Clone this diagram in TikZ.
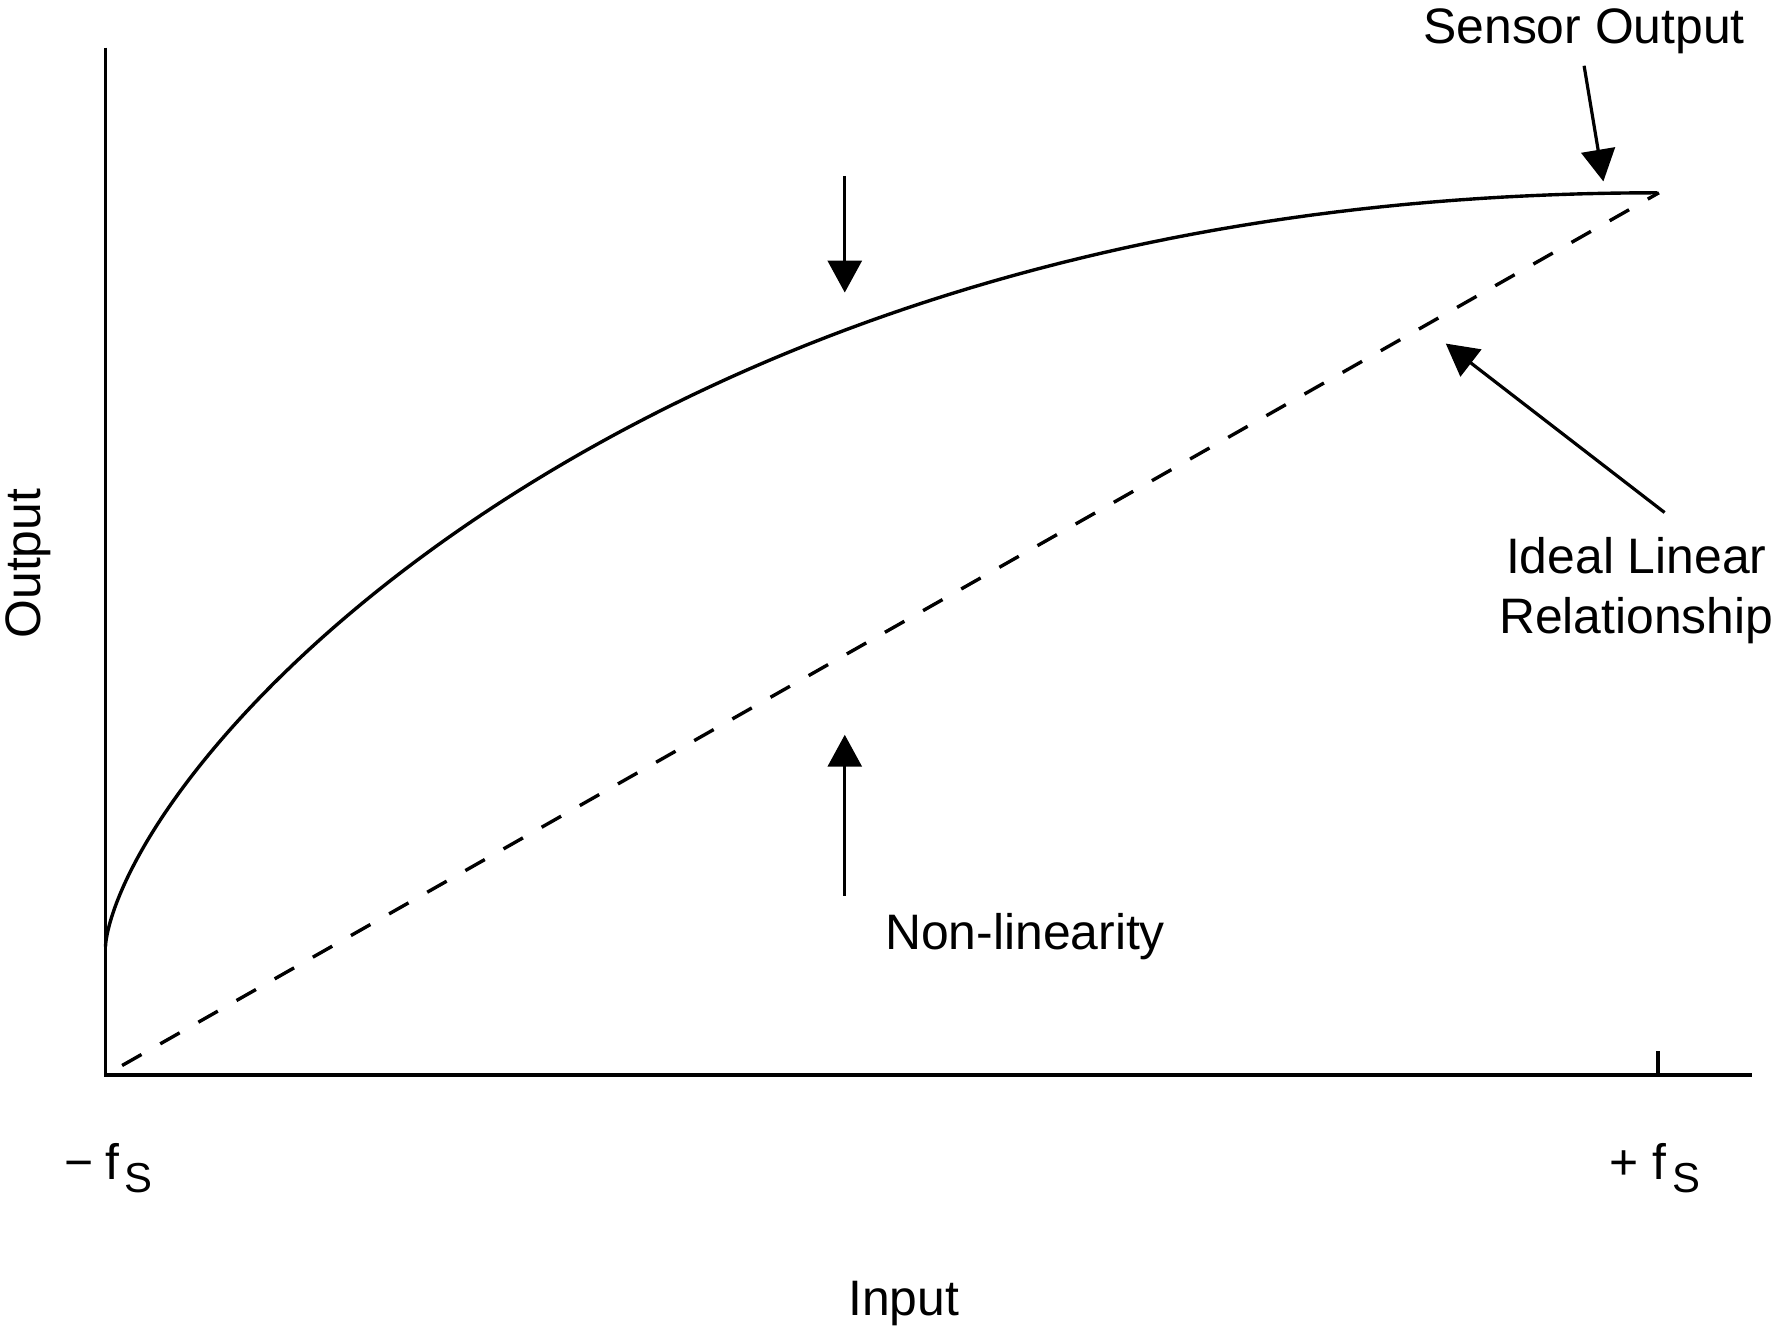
\documentclass[tikz,border=0pt]{standalone}
\usepackage{fontspec}
\setmainfont{Liberation Sans}
\usetikzlibrary{arrows.meta}
\begin{document}
\begin{tikzpicture}[x=0.01cm,y=-0.01cm,
  line width=0.85pt,
  lbl/.style={inner sep=0pt, font=\fontsize{12.5}{15}\selectfont},
  arr/.style={-{Triangle[length=8pt,width=8.5pt]}, line width=0.8pt},
  ideal/.style={dash pattern=on 5.6pt off 5.4pt, dash phase=6.2pt, line width=0.85pt},
  sensor/.style={line width=0.85pt, line join=round}]
\useasboundingbox (0,0) rectangle (1568,1176);
% axes
\coordinate (O) at (93,948);
\coordinate (ytop) at (93,42);
\coordinate (xend) at (1545,948);
\draw (ytop) -- (O) -- (xend);
\coordinate (tickb) at (1462,948);
\coordinate (ticktop) at (1462,927);
\draw (tickb) -- (ticktop);
% curves
\coordinate (cstart) at (93,835);
\coordinate (cend) at (1463,170);
\draw[ideal] (O) -- (cend);
\draw[sensor] (cstart) plot[domain=0:1, samples=240, smooth]
  ({93+1370*\x*sqrt(\x)}, {835-665*sin(90*\x)});
% labels
\node[lbl] (sensorlbl) at (1397,28) {Sensor Output};
\node[lbl, align=center] (ideallbl) at (1443,521) {Ideal Linear\\Relationship};
\node[lbl] (nonlin) at (904,826) {Non-linearity};
\node[lbl, rotate=90] (outlbl) at (25,497) {Output};
\node[lbl] (inlbl) at (797,1150) {Input};
\node[lbl, anchor=base west] (mfs) at (55,1040) {−\hspace{3pt}f\hspace{1.5pt}\raisebox{-0.5ex}{\fontsize{10.5}{12}\selectfont S}};
\node[lbl, anchor=base west] (pfs) at (1418,1040) {+ f\hspace{1.5pt}\raisebox{-0.5ex}{\fontsize{10.5}{12}\selectfont S}};
% arrows
\coordinate (dtail) at (745,155);
\coordinate (dtip) at (745,258);
\draw[arr] (dtail) -- (dtip);
\coordinate (utail) at (745,790);
\coordinate (utip) at (745,648);
\draw[arr] (utail) -- (utip);
\coordinate (stail) at (1397,58);
\coordinate (stip) at (1414,160);
\draw[arr] (stail) -- (stip);
\coordinate (itail) at (1468,452);
\coordinate (itip) at (1275,303);
\draw[arr] (itail) -- (itip);
\end{tikzpicture}
\end{document}
